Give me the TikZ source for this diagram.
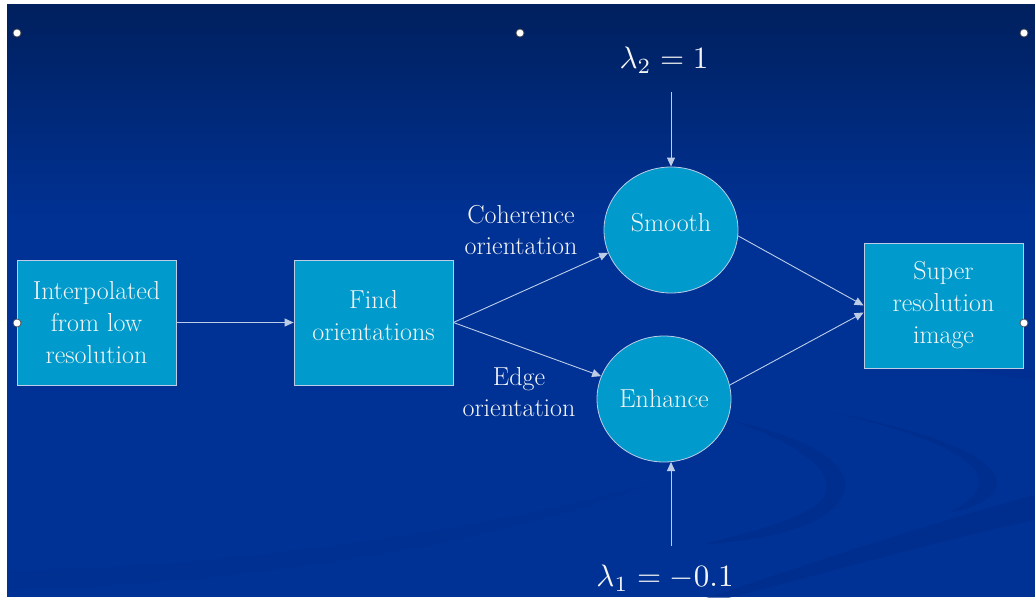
\documentclass[tikz,border=0pt]{standalone}
\usepackage{graphicx}
\usetikzlibrary{arrows.meta,shapes.geometric}
\definecolor{bgtop}{RGB}{0,32,94}
\definecolor{bgmid}{RGB}{0,50,150}
\definecolor{swoosh}{RGB}{0,44,138}
\definecolor{boxfill}{RGB}{0,155,204}
\definecolor{edgecol}{RGB}{190,205,230}
\definecolor{txt}{RGB}{245,245,245}
\tikzset{
  blockbox/.style={draw=edgecol,line width=0.8pt,fill=boxfill,minimum width=159pt,minimum height=125pt,inner sep=0pt,text=txt,align=center,font=\fontsize{26}{32}\selectfont},
  blob/.style={ellipse,draw=edgecol,line width=0.8pt,fill=boxfill,minimum width=134pt,minimum height=126pt,inner sep=0pt,text=txt,font=\fontsize{26}{32}\selectfont},
  conn/.style={draw=edgecol,line width=0.9pt,-{Triangle[width=8pt,length=9pt]}},
  lab/.style={text=txt,align=center,font=\fontsize{26}{31}\selectfont},
  lam/.style={text=txt,inner sep=0pt},
  handle/.style={circle,draw=black!70,fill=white,line width=0.7pt,minimum size=8pt,inner sep=0pt}
}
\begin{document}
\begin{tikzpicture}[x=1pt,y=-1pt]
\useasboundingbox (0,0) rectangle (1035,598);
\fill[white] (0,0) rectangle (1035,598);
\begin{scope}
\clip (7,4) rectangle (1035,597);
\fill[bgmid] (7,4) rectangle (1035,597);
\foreach \i in {0,...,44} {
  \pgfmathsetmacro{\p}{100*(\i/44)}
  \fill[bgmid!\p!bgtop] (7,{4+\i*5}) rectangle (1035,{4+\i*5+5.5});
}
% swooshes
\fill[swoosh,opacity=0.6] (730,420) .. controls (820,440) and (860,470) .. (840,500)
  .. controls (820,530) and (760,540) .. (700,545)
  .. controls (760,530) and (815,515) .. (825,495)
  .. controls (835,470) and (800,445) .. (730,420) -- cycle;
\fill[swoosh,opacity=0.6] (820,410) .. controls (930,430) and (1010,460) .. (995,490)
  .. controls (985,505) and (960,512) .. (950,512)
  .. controls (975,500) and (985,485) .. (975,470)
  .. controls (955,445) and (890,425) .. (820,410) -- cycle;
\fill[swoosh,opacity=0.6] (700,600) .. controls (820,560) and (940,520) .. (1035,495)
  -- (1035,520) .. controls (940,540) and (820,575) .. (720,600) -- cycle;
\fill[swoosh,opacity=0.4] (860,330) .. controls (900,340) and (940,355) .. (1035,370)
  -- (1035,380) .. controls (940,370) and (900,355) .. (860,330) -- cycle;
\fill[swoosh,opacity=0.3] (7,570) .. controls (200,570) and (500,530) .. (660,480)
  .. controls (520,540) and (250,585) .. (7,590) -- cycle;

% nodes
\node[blockbox] (interp) at (96.5,322.5) {Interpolated\\from low\\resolution};
\node[blockbox] (find) at (373.5,322.5) {};
\node[text=txt,align=center,font=\fontsize{26}{32}\selectfont] (findt) at (373.5,316) {Find\\orientations};
\node[blob] (smooth) at (671,230) {};
\node[text=txt,font=\fontsize{26}{32}\selectfont] (smootht) at (671,223) {Smooth};
\node[blob] (enhance) at (664,399) {Enhance};
\node[blockbox] (super) at (943.5,305.5) {Super\\resolution\\image};
\node[lam] (l2) at (664,60) {\scalebox{3.1}{$\lambda_2 = 1$}};
\node[lam] (l1) at (665,578) {\scalebox{3.1}{$\lambda_1 = -0.1$}};
\node[lab] (coh) at (521,230) {Coherence\\orientation};
\node[lab] (edge) at (519,392) {Edge\\orientation};
\coordinate (l2a) at (671,92);
\coordinate (l1a) at (671,546);
\coordinate (enhb) at (671,462);

% connectors
\draw[conn] (interp.east) -- (find.west);
\draw[conn] (find.east) -- (smooth.200);
\draw[conn] (find.east) -- (enhance.160);
\draw[conn] (smooth.-5) -- (super.west);
\draw[conn] (enhance.12) -- ([yshift=-7pt]super.west);
\draw[conn] (l2a) -- (smooth.north);
\draw[conn] (l1a) -- (enhb);
\end{scope}

% selection handles
\node[handle] (h1) at (17,33) {};
\node[handle] (h2) at (520,33) {};
\node[handle] (h3) at (1024,33) {};
\node[handle] (h4) at (17,323) {};
\node[handle] (h5) at (1024,323) {};
\end{tikzpicture}
\end{document}
